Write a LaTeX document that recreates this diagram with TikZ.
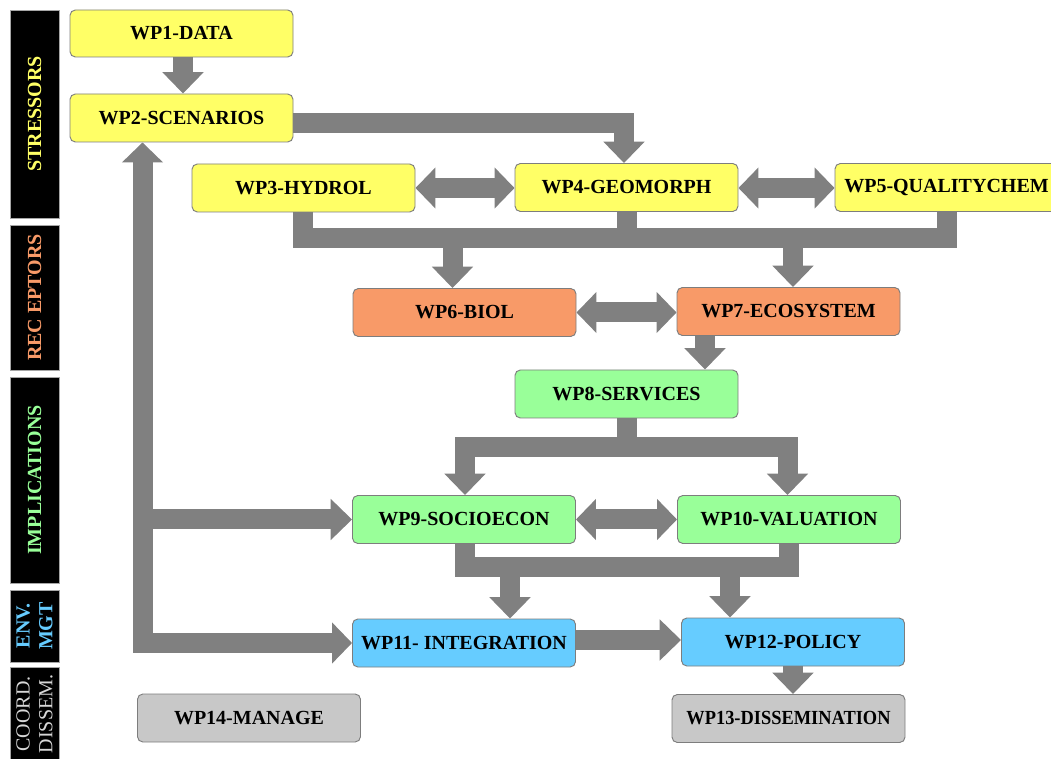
\documentclass[tikz,border=0pt]{standalone}
\usepackage{fontspec}
\usepackage{graphicx}
\setmainfont{Liberation Serif}
\usetikzlibrary{arrows.meta}
\definecolor{ylw}{RGB}{255,255,102}
\definecolor{org}{RGB}{248,154,104}
\definecolor{grn}{RGB}{153,255,153}
\definecolor{blu}{RGB}{102,204,255}
\definecolor{gry}{RGB}{200,200,200}
\definecolor{arr}{RGB}{128,128,128}
\definecolor{edge}{RGB}{125,125,125}
\definecolor{sidegray}{RGB}{215,215,215}
\begin{document}
\begin{tikzpicture}[x=0.75pt,y=-0.75pt,
  wp/.style={draw=edge, line width=0.7pt, rounded corners=4pt, minimum width=167.25pt,
    minimum height=36pt, inner sep=0pt, font=\fontsize{15}{17}\selectfont\bfseries},
  bar/.style={draw=arr, line width=15pt, line join=miter},
  conn/.style={bar, -{Triangle[width=30pt,length=16pt]}},
  dconn/.style={bar, {Triangle[width=30pt,length=15pt]}-{Triangle[width=30pt,length=15pt]}},
  side/.style={fill=black, draw=gray!70, line width=0.7pt, rotate=90, align=center,
    minimum height=36.75pt, inner sep=0pt, font=\fontsize{15}{17}\selectfont\bfseries}
]
\useasboundingbox (0,0) rectangle (1051,759);
\clip (0,0) rectangle (1051,759);

% sidebar
\node[side, text=ylw, minimum width=156pt] (s1) at (34.5,114) {STRESSORS};
\node[side, text=org, minimum width=108.75pt] (s2) at (34.5,297.5) {REC EPTORS};
\node[side, text=grn, minimum width=154.5pt] (s3) at (34.5,480) {IMPLICATIONS};
\node[side, text=blu, minimum width=54pt] (s4) at (34.5,626) {ENV.\\MGT};
\node[side, text=sidegray, minimum width=70.5pt, font=\fontsize{15}{17}\selectfont] (s5) at (34.5,714) {COORD.\\DISSEM.};

% work packages
\node[wp, fill=ylw, minimum height=35.25pt] (wp1) at (181.5,33.5) {WP1-DATA};
\node[wp, fill=ylw] (wp2) at (181.5,118) {WP2-SCENARIOS};
\node[wp, fill=ylw] (wp3) at (303.5,188) {WP3-HYDROL};
\node[wp, fill=ylw] (wp4) at (626.5,187.5) {WP4-GEOMORPH};
\node[wp, fill=ylw] (wp5) at (946.5,187.5) {WP5-QUALITYCHEM};
\node[wp, fill=org] (wp6) at (464.5,312.5) {WP6-BIOL};
\node[wp, fill=org] (wp7) at (788.5,311.5) {WP7-ECOSYSTEM};
\node[wp, fill=grn] (wp8) at (626.5,394) {WP8-SERVICES};
\node[wp, fill=grn] (wp9) at (464,519.5) {WP9-SOCIOECON};
\node[wp, fill=grn] (wp10) at (789,519.5) {WP10-VALUATION};
\node[wp, fill=blu] (wp11) at (464,643) {WP11- INTEGRATION};
\node[wp, fill=blu] (wp12) at (793,642) {WP12-POLICY};
\node[wp, fill=gry, minimum width=174.75pt] (wp13) at (788.5,718.5) {\scalebox{0.92}[1]{WP13-DISSEMINATION}};
\node[wp, fill=gry] (wp14) at (249,718) {WP14-MANAGE};

% junction coordinates
\coordinate (j1) at (183,0);
\coordinate (j2) at (624,123);
\coordinate (fb) at (142.5,0);
\coordinate (b1L) at (303,238.5);
\coordinate (b1R) at (947,238.5);
\coordinate (a6) at (452.5,238.5);
\coordinate (a7) at (793,238.5);
\coordinate (a8) at (705,0);
\coordinate (b2M) at (627,447.5);
\coordinate (b2L) at (465,447.5);
\coordinate (b2R) at (787.5,447.5);
\coordinate (b3L) at (465,567);
\coordinate (b3R) at (789,567);
\coordinate (a11) at (510,567);
\coordinate (a12) at (730,567);
\coordinate (h11) at (0,640);

% connectors
\draw[conn] (wp1.south -| j1) -- (wp2.north -| j1);
\draw[conn] (wp2.east |- j2) -| (wp4.north -| j2);
\draw[dconn] (wp2.south -| fb) |- (wp11.west);
\draw[conn] (fb |- wp9.west) -- (wp9.west);

\draw[dconn] (wp3.east) -- (wp4.west |- wp3.east);
\draw[dconn] (wp4.east |- wp3.east) -- (wp5.west |- wp3.east);

\draw[bar] (wp3.south -| b1L) -- (b1L) -- (b1R) -- (wp5.south -| b1R);
\draw[bar] (wp4.south) -- (wp4.south |- b1L);
\draw[conn] (a6) -- (wp6.north -| a6);
\draw[conn] (a7) -- (wp7.north -| a7);

\draw[dconn] (wp6.east) -- (wp7.west |- wp6.east);
\draw[conn] (wp7.south -| a8) -- (wp8.north -| a8);

\draw[bar] (wp8.south -| b2M) -- (b2M);
\draw[conn] (b2R) -- (b2L) -- (wp9.north -| b2L);
\draw[conn] (b2L) -- (b2R) -- (wp10.north -| b2R);

\draw[dconn] (wp9.east) -- (wp10.west);

\draw[bar] (wp9.south -| b3L) -- (b3L) -- (b3R) -- (wp10.south -| b3R);
\draw[conn] (a11) -- (wp11.north -| a11);
\draw[conn] (a12) -- (wp12.north -| a12);

\draw[conn] (wp11.east |- h11) -- (wp12.west |- h11);
\draw[conn] (wp12.south) -- (wp13.north -| wp12.south);
\end{tikzpicture}
\end{document}
